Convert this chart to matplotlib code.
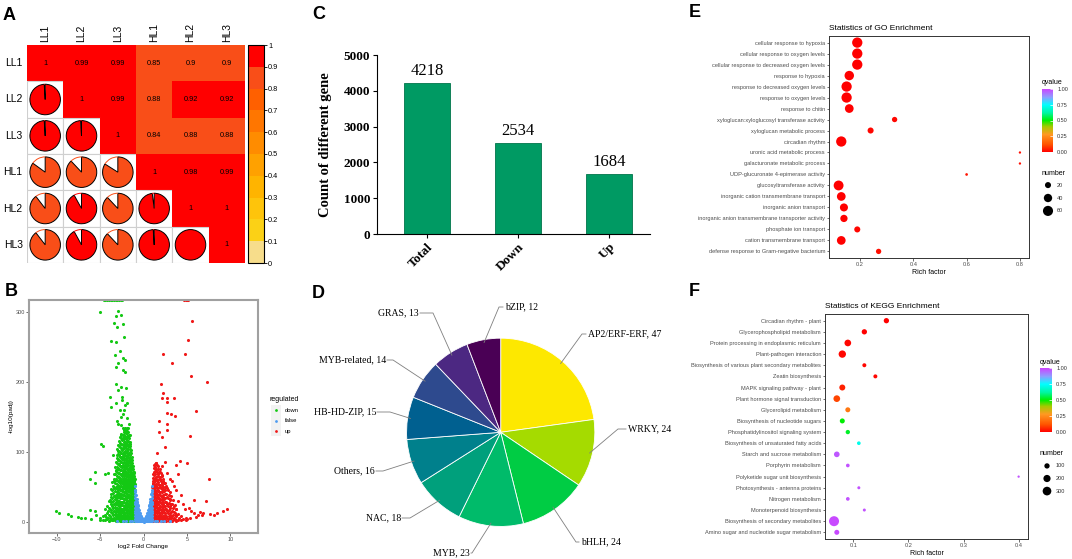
"""
Six-panel transcriptome summary: sample correlation, volcano, DEG counts,
TF family pie, GO and KEGG enrichment bubbles.
"""
import numpy as np
import matplotlib
import matplotlib.pyplot as plt
from matplotlib.patches import Rectangle, Wedge, Arc
from matplotlib.colors import ListedColormap, BoundaryNorm, LinearSegmentedColormap, Normalize
from matplotlib.cm import ScalarMappable

plt.rcParams["font.family"] = ["Liberation Sans", "DejaVu Sans"]
SERIF = ["Liberation Serif", "DejaVu Serif"]

W, H = 1072, 559

# ---------------- data ----------------
samples = ["LL1", "LL2", "LL3", "HL1", "HL2", "HL3"]
corr = np.array([
    [1.00, 0.99, 0.99, 0.85, 0.896, 0.896],
    [0.99, 1.00, 0.99, 0.88, 0.92, 0.92],
    [0.99, 0.99, 1.00, 0.84, 0.88, 0.88],
    [0.85, 0.88, 0.84, 1.00, 0.98, 0.99],
    [0.896, 0.92, 0.88, 0.98, 1.00, 1.00],
    [0.896, 0.92, 0.88, 0.99, 1.00, 1.00],
])
corr_band_colors = ["#F7DD8B", "#FBD116", "#FEC40B", "#FFB400", "#FFA100",
                    "#FF8C00", "#FF7600", "#FF6000", "#F94E18", "#FF0000"]

# volcano: dense columns (x, [y...]) and scattered points
green_cols = [
    (-1.02, [1, 8, 15, 22, 30, 38, 46, 54, 62]),
    (-1.05, [5, 12, 19, 26, 34, 42, 50, 58]),
    (-1.1, [4, 11, 19, 27, 35, 43, 51, 59, 66, 72]),
    (-1.15, [1, 8, 15, 23, 31, 39, 47, 55, 63, 70]),
    (-1.2, [2, 9, 16, 24, 32, 40, 48, 56, 64, 72, 80]),
    (-1.25, [6, 13, 21, 29, 37, 45, 53, 60, 68, 76]),
    (-1.3, [5, 12, 20, 28, 36, 45, 53, 61, 70, 79, 88]),
    (-1.35, [2, 9, 17, 25, 33, 41, 50, 58, 66, 75, 84, 93]),
    (-1.4, [1, 8, 16, 24, 32, 41, 49, 58, 67, 76, 86, 98]),
    (-1.45, [5, 12, 20, 28, 37, 45, 54, 63, 72, 81, 91, 103]),
    (-1.5, [4, 12, 20, 28, 37, 46, 55, 64, 74, 84, 95, 108]),
    (-1.55, [1, 8, 16, 24, 33, 42, 51, 60, 69, 79, 89, 100, 112]),
    (-1.6, [2, 9, 17, 25, 34, 43, 52, 61, 71, 81, 92, 104, 114]),
    (-1.65, [6, 13, 21, 30, 39, 48, 57, 66, 76, 86, 97, 108, 120]),
    (-1.7, [5, 13, 21, 30, 39, 48, 57, 67, 77, 88, 99, 111, 124]),
    (-1.75, [2, 9, 17, 26, 35, 44, 53, 62, 72, 82, 93, 104, 116, 129]),
    (-1.8, [1, 8, 17, 26, 35, 44, 54, 64, 74, 85, 96, 108, 121, 134]),
    (-1.85, [5, 13, 22, 31, 40, 49, 59, 69, 80, 91, 102, 114, 127]),
    (-1.9, [4, 12, 21, 30, 40, 50, 60, 70, 81, 92, 104, 117, 130]),
    (-1.95, [1, 8, 17, 26, 35, 45, 55, 65, 75, 86, 98, 110, 123, 134]),
    (-2.0, [2, 9, 18, 27, 36, 46, 56, 66, 77, 88, 100, 113, 127]),
    (-2.05, [6, 14, 23, 32, 41, 51, 61, 71, 82, 94, 106, 120, 133]),
    (-2.1, [5, 13, 22, 32, 42, 52, 62, 73, 84, 96, 109, 122, 135]),
    (-2.15, [2, 9, 18, 27, 37, 47, 57, 68, 79, 90, 102, 115, 129]),
    (-2.2, [1, 9, 18, 28, 38, 48, 58, 69, 80, 92, 105, 118, 131]),
    (-2.25, [5, 14, 23, 33, 43, 53, 63, 74, 86, 98, 111, 125]),
    (-2.3, [4, 13, 23, 33, 43, 54, 65, 76, 88, 100, 114, 128]),
    (-2.35, [1, 9, 18, 28, 38, 48, 59, 70, 82, 94, 106, 120, 134]),
    (-2.4, [2, 10, 19, 29, 39, 50, 61, 72, 84, 97, 110, 124]),
    (-2.45, [6, 15, 24, 34, 44, 55, 66, 78, 90, 103, 117]),
    (-2.5, [5, 14, 24, 34, 45, 56, 67, 79, 91, 104, 118]),
    (-2.55, [2, 10, 19, 29, 40, 51, 62, 74, 86, 98, 111, 125]),
    (-2.6, [1, 9, 19, 29, 40, 51, 62, 74, 86, 99, 112, 126]),
    (-2.65, [6, 15, 25, 35, 46, 57, 68, 80, 93, 106, 120]),
    (-2.7, [4, 13, 23, 34, 45, 56, 68, 80, 93, 107, 121]),
    (-2.75, [1, 9, 18, 28, 39, 50, 62, 74, 87, 100, 113]),
    (-2.8, [2, 10, 20, 30, 41, 52, 64, 76, 89, 102, 116]),
    (-2.85, [6, 15, 25, 36, 47, 58, 70, 83, 96, 108]),
    (-2.9, [5, 14, 24, 35, 46, 58, 70, 83, 97, 110]),
    (-2.95, [2, 10, 19, 29, 40, 52, 64, 76, 89, 101]),
    (-3.0, [1, 10, 20, 31, 42, 54, 66, 79, 92, 104]),
    (-3.08, [6, 15, 25, 36, 48, 60, 72, 84, 95]),
    (-3.15, [4, 14, 25, 36, 48, 60, 73, 86]),
    (-3.22, [1, 9, 18, 28, 39, 50, 62, 74]),
    (-3.3, [2, 11, 21, 32, 44, 56, 68, 79]),
    (-3.38, [6, 16, 26, 37, 48, 59, 68]),
    (-3.45, [5, 15, 26, 37, 49, 61]),
    (-3.52, [2, 10, 20, 30, 41, 52]),
    (-3.6, [2, 12, 23, 34, 46, 57]),
    (-3.7, [6, 17, 28, 40]),
    (-3.8, [4, 14, 25, 36, 47]),
    (-3.9, [2, 9, 19, 31]),
    (-4.0, [1, 10, 20, 30]),
    (-4.1, [5, 15]),
    (-4.2, [4, 13, 23]),
    (-4.4, [2, 10, 18]),
    (-4.7, [3, 8]),
    (-5.0, [2]),
]
green_x = [-5.06, -2.97, -3.2, -2.55, -3.44, -2.36, -3.05, -2.28, -3.78, -3.13,
           -2.74, -3.32, -2.36, -2.16, -2.93, -3.13, -2.36, -2.08, -3.2, -2.55,
           -2.05, -2.97, -3.9, -2.47, -3.13, -2.16, -2.74, -3.78, -4.94, -4.67,
           -4.48, -5.56, -6.2, -5.64, -6.14, -5.64, -5.52, -10.08, -9.69, -8.73,
           -8.34, -7.57, -7.18, -6.8, -6.02, -5.06, -4.29, -2.6, -3.0, -2.4,
           -1.9, -1.7, -2.2, -2.9, -1.5, -3.5, -4.1, -2.45, -1.95, -2.65]
green_y = [300, 302, 294, 296, 284, 283, 279, 265, 259, 258,
           244, 239, 234, 232, 227, 221, 217, 215, 198, 193,
           191, 189, 179, 179, 170, 167, 160, 165, 112, 108,
           69, 72, 62, 55, 17, 15, 10, 16, 13, 10.5,
           9, 7, 6, 5, 3.5, 5, 7, 150, 145, 155,
           148, 140, 160, 140, 125, 95, 70, 175, 170, 138]
green_top_x = [-4.6, -4.4, -4.2, -4.0, -3.8, -3.6, -3.4, -3.2, -3.0, -2.8, -2.6, -2.5]

red_cols = [
    (1.02, [1, 8, 16, 24, 32, 41, 50]),
    (1.06, [5, 12, 20, 28, 37, 45, 54]),
    (1.1, [4, 12, 20, 28, 37, 46, 55, 63]),
    (1.15, [1, 8, 16, 24, 32, 41, 50, 59, 68]),
    (1.2, [2, 9, 17, 25, 34, 43, 52, 62, 72, 81]),
    (1.25, [6, 13, 21, 29, 38, 47, 57, 67, 77]),
    (1.3, [5, 13, 21, 30, 39, 48, 58, 68, 78]),
    (1.35, [2, 9, 17, 26, 35, 44, 53, 63, 73, 83]),
    (1.4, [1, 8, 16, 25, 34, 44, 54, 64, 75, 84]),
    (1.48, [6, 14, 22, 31, 41, 51, 62, 73, 84]),
    (1.55, [4, 12, 20, 29, 39, 49, 60, 71, 82]),
    (1.62, [1, 8, 16, 25, 34, 44, 54, 65, 76]),
    (1.7, [2, 9, 17, 26, 36, 46, 57, 68, 80]),
    (1.78, [5, 13, 21, 30, 40, 50, 61, 72]),
    (1.85, [5, 13, 22, 32, 42, 53, 64, 75]),
    (1.92, [2, 10, 19, 29, 39, 50, 61, 72]),
    (2.0, [1, 8, 17, 27, 37, 48, 59, 70]),
    (2.08, [6, 14, 23, 33, 44, 55, 67]),
    (2.15, [4, 12, 21, 31, 42, 53, 65]),
    (2.22, [1, 9, 17, 26, 36, 47, 58]),
    (2.3, [2, 9, 18, 28, 39, 50, 61]),
    (2.38, [5, 14, 23, 33, 44, 55]),
    (2.45, [5, 13, 23, 34, 45, 56]),
    (2.52, [2, 10, 19, 29, 40, 50]),
    (2.6, [1, 9, 18, 29, 40, 52]),
    (2.7, [6, 15, 25, 36, 48]),
    (2.8, [4, 13, 23, 34, 46]),
    (2.9, [1, 8, 17, 27, 38]),
    (3.0, [2, 10, 20, 31, 42]),
    (3.1, [5, 13, 22, 33]),
    (3.2, [5, 14, 25, 37]),
    (3.3, [1, 8, 16, 26]),
    (3.4, [2, 10, 20, 31]),
    (3.5, [5, 14, 22]),
    (3.6, [4, 13, 24]),
    (3.7, [2, 10, 19]),
    (3.8, [1, 9, 18]),
    (4.0, [3, 11]),
    (4.15, [5]),
    (4.3, [2, 8]),
    (4.6, [4]),
    (4.9, [2, 6]),
]
red_x = [5.56, 5.1, 4.79, 2.28, 3.24, 5.44, 7.37, 2.05, 2.2, 2.08,
         3.56, 2.66, 2.66, 6.0, 2.66, 3.13, 3.63, 1.81, 2.74, 2.66,
         1.81, 2.08, 5.37, 2.47, 1.58, 4.21, 3.75, 5.06, 4.02, 7.57,
         5.83, 7.18, 9.61, 9.2, 8.45, 7.68, 6.7, 6.1, 5.4, 5.0,
         8.07, 6.53, 6.9, 2.5, 3.0, 3.3, 2.7, 3.8, 4.3, 4.6,
         5.2, 5.5, 2.1, 3.5, 4.0, 4.8, 5.8, 6.3]
red_y = [287, 260, 241, 240, 228, 209, 200, 197, 184, 177,
         178, 178, 171, 158, 156, 154, 151, 145, 140, 131,
         128, 122, 123, 107, 99, 87, 81, 84, 69, 62,
         31, 30, 19, 16, 13, 11, 9.5, 7, 5.7, 4.3,
         9.5, 14, 12, 85, 62, 58, 70, 45, 38, 25,
         20, 15, 80, 52, 30, 18, 12, 10]
red_top_x = [4.7, 4.85, 5.0, 5.15]

blue_cols = [
    (-1.0, [1, 8, 16, 25, 34, 43, 51]),
    (-0.95, [4, 12, 20, 29, 38, 46]),
    (-0.9, [0.5, 7, 14, 22, 30, 38]),
    (-0.85, [3, 10, 17, 25, 33]),
    (-0.8, [1, 6, 12, 19, 26, 33]),
    (-0.75, [3, 8, 14, 21, 29]),
    (-0.7, [0.5, 5, 10, 16, 22, 28]),
    (-0.65, [2, 7, 12, 18, 24]),
    (-0.6, [1, 5, 9, 14, 19, 23]),
    (-0.5, [0.5, 4, 8, 12, 17]),
    (-0.4, [1, 4, 7, 10, 13]),
    (-0.3, [0.5, 3, 6, 9]),
    (-0.2, [1, 3, 5]),
    (-0.1, [0.5, 2]),
    (0.0, [0.3]),
    (0.1, [0.5, 2]),
    (0.2, [1, 3, 5]),
    (0.3, [0.5, 3, 6, 9]),
    (0.4, [1, 4, 7, 10, 13]),
    (0.5, [0.5, 4, 8, 12, 17]),
    (0.6, [1, 5, 9, 14, 19, 23]),
    (0.65, [2, 7, 12, 18, 24]),
    (0.7, [0.5, 5, 10, 16, 22, 28]),
    (0.75, [3, 8, 14, 21, 29]),
    (0.8, [1, 6, 12, 19, 26, 33]),
    (0.85, [3, 10, 17, 25, 33]),
    (0.9, [0.5, 7, 14, 22, 30, 40]),
    (0.95, [4, 12, 20, 29, 38, 46]),
    (1.0, [1, 8, 16, 25, 34, 43, 52]),
]
blue_x = [-3.0, -2.4, -2.0, -1.6, -1.3, 1.3, 1.6, 2.0, 2.4, 3.0]
blue_y = [0.5, 1, 0.8, 1.2, 0.5, 0.6, 1, 0.7, 1.1, 0.5]
TOP_Y = 318  # -log10(padj) = Inf, drawn at the panel edge

deg_cats = ["Total", "Down", "Up"]
deg_counts = [4218, 2534, 1684]

tf_names = ["AP2/ERF-ERF", "WRKY", "bHLH", "MYB", "NAC", "Others",
            "HB-HD-ZIP", "MYB-related", "GRAS", "bZIP"]
tf_counts = [47, 24, 24, 23, 18, 16, 15, 14, 13, 12]
tf_colors = ["#FDE800", "#A5DB00", "#00CC44", "#00BB6A", "#00A07C",
             "#00808C", "#006090", "#2E4A8E", "#4C2882", "#4A0055"]

go_terms = [
    "cellular response to hypoxia",
    "cellular response to oxygen levels",
    "cellular response to decreased oxygen levels",
    "response to hypoxia",
    "response to decreased oxygen levels",
    "response to oxygen levels",
    "response to chitin",
    "xyloglucan:xyloglucosyl transferase activity",
    "xyloglucan metabolic process",
    "circadian rhythm",
    "uronic acid metabolic process",
    "galacturonate metabolic process",
    "UDP-glucuronate 4-epimerase activity",
    "glucosyltransferase activity",
    "inorganic cation transmembrane transport",
    "inorganic anion transport",
    "inorganic anion transmembrane transporter activity",
    "phosphate ion transport",
    "cation transmembrane transport",
    "defense response to Gram-negative bacterium",
]
go_rich = [0.19, 0.19, 0.19, 0.16, 0.15, 0.15, 0.16, 0.33, 0.24, 0.13,
           0.80, 0.80, 0.60, 0.12, 0.13, 0.14, 0.14, 0.19, 0.13, 0.27]
go_number = [62, 62, 62, 52, 62, 62, 44, 15, 20, 62, 1, 1, 2, 57, 44, 37, 30, 20, 44, 15]
go_q = [0.0, 0.0, 0.0, 0.0, 0.0, 0.0, 0.0, 0.01, 0.01, 0.0,
        0.02, 0.02, 0.03, 0.0, 0.0, 0.0, 0.0, 0.01, 0.0, 0.02]

kegg_terms = [
    "Circadian rhythm - plant",
    "Glycerophospholipid metabolism",
    "Protein processing in endoplasmic reticulum",
    "Plant-pathogen interaction",
    "Biosynthesis of various plant secondary metabolites",
    "Zeatin biosynthesis",
    "MAPK signaling pathway - plant",
    "Plant hormone signal transduction",
    "Glycerolipid metabolism",
    "Biosynthesis of nucleotide sugars",
    "Phosphatidylinositol signaling system",
    "Biosynthesis of unsaturated fatty acids",
    "Starch and sucrose metabolism",
    "Porphyrin metabolism",
    "Polyketide sugar unit biosynthesis",
    "Photosynthesis - antenna proteins",
    "Nitrogen metabolism",
    "Monoterpenoid biosynthesis",
    "Biosynthesis of secondary metabolites",
    "Amino sugar and nucleotide sugar metabolism",
]
kegg_rich = [0.16, 0.12, 0.09, 0.08, 0.12, 0.14, 0.08, 0.07, 0.09, 0.08,
             0.09, 0.11, 0.07, 0.09, 0.40, 0.11, 0.09, 0.12, 0.065, 0.07]
kegg_number = [100, 100, 170, 210, 48, 48, 133, 170, 87, 87,
               60, 38, 116, 38, 3, 19, 38, 19, 405, 87]
kegg_q = [0.0, 0.0, 0.01, 0.01, 0.01, 0.01, 0.05, 0.10, 0.20, 0.50,
          0.53, 0.72, 0.97, 0.98, 0.98, 0.98, 0.98, 0.98, 0.99, 0.99]

q_cmap = LinearSegmentedColormap.from_list("qvalue", [
    (0.0, "#FF0000"), (0.12, "#FF5500"), (0.28, "#FF9922"), (0.4, "#A8C800"),
    (0.5, "#00EE00"), (0.62, "#00F5A0"), (0.75, "#00FFFF"), (0.87, "#8CA0FF"),
    (1.0, "#CC44FF")])


def px_box(x0, y0, x1, y1):
    return [x0 / W, 1 - y1 / H, (x1 - x0) / W, (y1 - y0) / H]


def flatten(cols):
    xs, ys = [], []
    for x, col in cols:
        xs += [x] * len(col)
        ys += col
    return xs, ys


fig = plt.figure(figsize=(W / 100, H / 100), dpi=100)

for lab, (lx, ly) in zip("ABCDEF", [(3, 20), (5, 296), (312, 19), (312, 298), (689, 17), (689, 296)]):
    fig.text(lx / W, 1 - ly / H, lab, fontsize=13, fontweight="bold", va="baseline")

# ---------------- A: correlation ----------------
cmapA = ListedColormap(corr_band_colors)
normA = BoundaryNorm(np.linspace(0, 1, 11), cmapA.N)
axA = fig.add_axes(px_box(27, 45, 245, 263))
n = len(samples)
for i in range(n):
    for j in range(n):
        v = corr[i, j]
        col = cmapA(normA(min(v, 0.999)))
        x0, y0 = j, n - 1 - i
        if j >= i:
            axA.add_patch(Rectangle((x0, y0), 1, 1, facecolor=col, edgecolor="none"))
            axA.text(x0 + 0.5, y0 + 0.5, f"{round(v, 2):g}", ha="center", va="center", fontsize=5.3)
        else:
            axA.add_patch(Rectangle((x0, y0), 1, 1, facecolor="white", edgecolor="#CFCFCF", lw=0.8))
            cx, cy = x0 + 0.5, y0 + 0.5
            axA.add_patch(Wedge((cx, cy), 0.42, 90 - 360 * v, 90, facecolor=col,
                                edgecolor="black", lw=0.7))
            if v < 1:
                axA.add_patch(Arc((cx, cy), 0.84, 0.84, theta1=90, theta2=90 + 360 * (1 - v),
                                  color=col, lw=0.7))
for k, s in enumerate(samples):
    axA.text(-0.12, n - 1 - k + 0.5, s, ha="right", va="center", fontsize=7.5)
    axA.text(k + 0.5, n + 0.08, s, ha="center", va="bottom", rotation=90, fontsize=7.5)
axA.set_xlim(0, n)
axA.set_ylim(0, n)
axA.axis("off")

caxA = fig.add_axes(px_box(248, 45, 264, 263))
cbA = fig.colorbar(ScalarMappable(norm=normA, cmap=cmapA), cax=caxA,
                   ticks=np.linspace(0, 1, 11))
cbA.ax.set_yticklabels([f"{t:g}" for t in np.round(np.linspace(0, 1, 11), 1)])
cbA.ax.tick_params(labelsize=5.3, length=2, width=0.6, pad=1)
cbA.outline.set_linewidth(0.8)

# ---------------- B: volcano ----------------
axB = fig.add_axes(px_box(29, 300, 258, 533))
gx, gy = flatten(green_cols)
rx, ry = flatten(red_cols)
bx, by = flatten(blue_cols)
pt = dict(s=5, linewidths=0)
axB.scatter(gx + green_x + green_top_x, gy + green_y + [TOP_Y] * len(green_top_x), c="#14C814", **pt)
axB.scatter(rx + red_x + red_top_x, ry + red_y + [TOP_Y] * len(red_top_x), c="#F01818", **pt)
axB.scatter(bx + blue_x, by + blue_y, c="#4E9CF0", **pt)
axB.set_xlim(-13.2, 13.2)
axB.set_ylim(-16, 317.6)
axB.set_xticks([-10, -5, 0, 5, 10])
axB.set_yticks([0, 100, 200, 300])
axB.tick_params(labelsize=4, colors="#333333", labelcolor="#4D4D4D", length=2, width=0.5, pad=1)
for sp in axB.spines.values():
    sp.set_color("#A0A0A0")
    sp.set_linewidth(1.5)
axB.set_xlabel("log2 Fold Change", fontsize=4.6, labelpad=1.5)
axB.set_ylabel("-log10(padj)", fontsize=4.6, labelpad=1.5)

fig.text(269 / W, 1 - 401 / H, "regulated", fontsize=5, va="baseline")
legB = fig.add_axes(px_box(270.5, 405, 281, 436))
legB.set_facecolor("#F2F2F2")
for k, c in enumerate(["#14C814", "#4E9CF0", "#F01818"]):
    legB.scatter([0], [k], s=4, c=c, linewidths=0)
legB.set_xlim(-0.5, 0.5)
legB.set_ylim(2.5, -0.5)
legB.set_xticks([])
legB.set_yticks([])
for sp in legB.spines.values():
    sp.set_visible(False)
for k, t in enumerate(["down", "false", "up"]):
    fig.text(285 / W, 1 - (410.5 + 10.3 * k) / H, t, fontsize=4.2, va="center")

# ---------------- C: DEG counts ----------------
axC = fig.add_axes(px_box(377, 55, 650, 234))
xc = np.arange(len(deg_cats))
axC.bar(xc, deg_counts, width=0.5, color="#009A63", edgecolor="#00744A", linewidth=0.6)
for xi, v in zip(xc, deg_counts):
    axC.text(xi, v + 110, str(v), ha="center", va="bottom", fontsize=12, family=SERIF)
axC.set_xlim(-0.55, 2.45)
axC.set_ylim(0, 5000)
axC.set_yticks([0, 1000, 2000, 3000, 4000, 5000])
axC.set_xticks(xc)
axC.set_xticklabels(deg_cats, rotation=45, ha="right", rotation_mode="anchor")
for lab in axC.get_xticklabels() + axC.get_yticklabels():
    lab.set_family(SERIF)
    lab.set_fontweight("bold")
    lab.set_fontsize(9.5)
axC.tick_params(length=3, width=0.8, pad=2)
axC.spines["top"].set_visible(False)
axC.spines["right"].set_visible(False)
axC.set_ylabel("Count of different gene", fontsize=10.5, fontweight="bold", family=SERIF)
axC.yaxis.set_label_coords(-0.165, 0.5)

# ---------------- D: TF families ----------------
cxD, cyD, scaleD = 500.7, 432.3, 94.14
axD = fig.add_axes(px_box(cxD - 120.5, cyD - 120.5, cxD + 120.5, cyD + 120.5))
wedges, _ = axD.pie(tf_counts, colors=tf_colors, startangle=90, counterclock=False,
                    wedgeprops=dict(edgecolor="white", linewidth=0.6))
axD.set_xlim(-1.28, 1.28)
axD.set_ylim(-1.28, 1.28)
axD.axis("off")
# leader-line layout: elbow point and text anchor (pixels), text alignment
tf_label_layout = {
    "AP2/ERF-ERF": ((582, 334), (586, 334), "left"),
    "WRKY": ((618, 429), (626, 429), "left"),
    "bHLH": ((576, 542), (579, 542), "left"),
    "MYB": ((472, 553), (471, 553), "right"),
    "NAC": ((410, 518), (402, 518), "right"),
    "Others": ((383, 471), (376, 471), "right"),
    "HB-HD-ZIP": ((390, 412), (377, 412), "right"),
    "MYB-related": ((393, 360), (387, 360), "right"),
    "GRAS": ((433, 313), (420, 313), "right"),
    "bZIP": ((499, 307), (503, 307), "left"),
}


def to_d(px, py):
    return (px - cxD) / scaleD, (cyD - py) / scaleD


for w, name, cnt in zip(wedges, tf_names, tf_counts):
    ang = np.deg2rad((w.theta1 + w.theta2) / 2)
    sx, sy = 0.97 * np.cos(ang), 0.97 * np.sin(ang)
    (epx, epy), (tpx, tpy), ha = tf_label_layout[name]
    ex, ey = to_d(epx, epy)
    tx, ty = to_d(tpx, tpy)
    axD.plot([sx, ex, tx], [sy, ey, ey], color="#7F7F7F", lw=0.6, clip_on=False)
    axD.text(tx + (0.02 if ha == "left" else -0.01), ey, f"{name}, {cnt}", ha=ha, va="center",
             fontsize=7, family=SERIF, clip_on=False)


# ---------------- E / F: enrichment ----------------
def enrichment(box, title, terms, rich, number, qval, xlim, xticks, size_of,
               cbox, q_title_xy, num_title_xy, nbox, leg_numbers):
    ax = fig.add_axes(px_box(*box))
    ypos = np.arange(len(terms))
    ax.scatter(rich, ypos, s=size_of(np.array(number)), c=qval, cmap=q_cmap,
               vmin=0, vmax=1, linewidths=0, zorder=3)
    ax.set_yticks(ypos)
    ax.set_yticklabels(terms)
    ax.set_ylim(len(terms) - 0.4, -0.6)
    ax.set_xlim(*xlim)
    ax.set_xticks(xticks)
    ax.set_xticklabels([f"{t:g}" for t in xticks])
    ax.tick_params(labelsize=4.1, labelcolor="#4D4D4D", colors="#333333", length=1.8,
                   width=0.5, pad=1)
    for sp in ax.spines.values():
        sp.set_color("#333333")
        sp.set_linewidth(0.7)
    ax.set_title(title, loc="left", fontsize=6, pad=4)
    ax.set_xlabel("Rich factor", fontsize=5, labelpad=1.5)

    cax = fig.add_axes(px_box(*cbox))
    cb = fig.colorbar(ScalarMappable(norm=Normalize(0, 1), cmap=q_cmap), cax=cax,
                      ticks=[0, 0.25, 0.5, 0.75, 1])
    cb.ax.set_yticklabels(["0.00", "0.25", "0.50", "0.75", "1.00"])
    cb.outline.set_visible(False)
    cb.ax.tick_params(labelsize=4, labelcolor="#333333", color="white", length=2,
                      width=0.5, direction="in", pad=3)
    fig.text(q_title_xy[0] / W, 1 - q_title_xy[1] / H, "qvalue", fontsize=5, va="baseline")
    fig.text(num_title_xy[0] / W, 1 - num_title_xy[1] / H, "number", fontsize=5, va="baseline")

    lax = fig.add_axes(px_box(*nbox))
    rows = np.arange(len(leg_numbers))
    lax.scatter(np.zeros(len(rows)), rows, s=size_of(np.array(leg_numbers)), c="black",
                linewidths=0)
    for r, v in zip(rows, leg_numbers):
        lax.text(9, r, str(v), fontsize=4, color="#333333", va="center")
    lax.set_xlim(-8, 24)
    lax.set_ylim(len(rows) - 0.45, -0.55)
    lax.axis("off")
    return ax


enrichment((829, 36, 1029, 258), "Statistics of GO Enrichment", go_terms, go_rich,
           go_number, go_q, (0.084, 0.834), [0.2, 0.4, 0.6, 0.8],
           lambda v: 2 + 0.85 * v,
           (1042, 89, 1053, 152), (1042, 84), (1042, 175), (1040, 178, 1072, 218),
           [20, 40, 60])

enrichment((825, 314, 1028, 539), "Statistics of KEGG Enrichment", kegg_terms, kegg_rich,
           kegg_number, kegg_q, (0.0486, 0.417), [0.1, 0.2, 0.3, 0.4],
           lambda v: 2.4 + 0.122 * v,
           (1040, 368, 1052, 432), (1040, 364), (1040, 455), (1039, 459, 1071, 498),
           [100, 200, 300])

fig.savefig("out.png", dpi=100)
